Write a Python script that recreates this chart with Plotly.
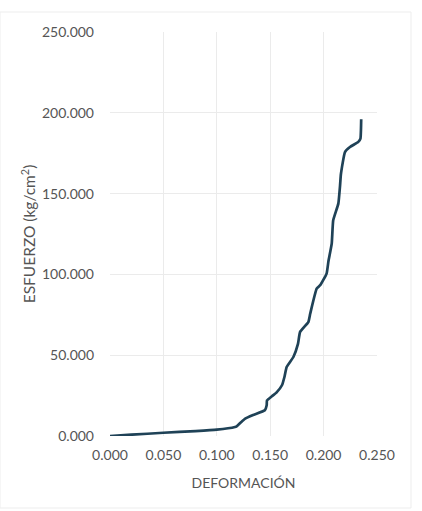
import plotly.graph_objects as go

# Ensayo de compresión: deformación unitaria vs esfuerzo
deformacion = [0.000, 0.020, 0.050, 0.080, 0.100, 0.117, 0.1186, 0.1226, 0.1266,
               0.134, 0.145, 0.1467, 0.1470, 0.1516, 0.156, 0.161, 0.1635, 0.1654,
               0.1717, 0.176, 0.178, 0.1857, 0.1875, 0.1935, 0.197, 0.2028, 0.2045,
               0.2076, 0.209, 0.2138, 0.2154, 0.2162, 0.220, 0.2247, 0.2325, 0.2345,
               0.2350, 0.2352]
esfuerzo = [0.0, 0.8, 2.0, 3.0, 3.9, 5.6, 6.0, 8.5, 10.8,
            13.0, 15.9, 19.0, 22.0, 24.6, 27.0, 31.4, 37.0, 42.7,
            48.9, 57.0, 64.4, 70.5, 75.8, 91.2, 93.5, 100.5, 108.0,
            119.0, 133.5, 143.8, 155.0, 162.0, 175.7, 178.8, 182.0, 184.0,
            190.0, 196.0]

x_ticks = [0.0, 0.05, 0.10, 0.15, 0.20, 0.25]
y_ticks = [0, 50, 100, 150, 200, 250]

fig = go.Figure()
fig.add_trace(go.Scatter(
    x=deformacion, y=esfuerzo, mode="lines",
    line=dict(color="#1f4257", width=2.7, shape="spline", smoothing=0.4),
    showlegend=False, hoverinfo="x+y",
))

font_ticks = dict(family="Lato, 'Open Sans', sans-serif", size=14, color="#555555")
font_ytitle = dict(family="Lato, 'Open Sans', sans-serif", size=15.5, color="#555555")

fig.update_layout(
    width=422, height=511,
    margin=dict(l=110, r=45, t=32, b=75),
    paper_bgcolor="white", plot_bgcolor="white",
    xaxis=dict(
        range=[0, 0.25], tickvals=x_ticks,
        ticktext=[f"{v:.3f}" for v in x_ticks],
        showgrid=True, gridcolor="#ebebeb", gridwidth=1,
        zeroline=False, showline=False, tickfont=font_ticks,
        ticklabelstandoff=9,
        title=dict(text="DEFORMACIÓN", font=font_ticks, standoff=16),
    ),
    yaxis=dict(
        range=[0, 250], tickvals=y_ticks,
        ticktext=[f"{v:.3f}" for v in y_ticks],
        showgrid=True, gridcolor="#ebebeb", gridwidth=1,
        zeroline=False, showline=False, tickfont=font_ticks,
        ticklabelstandoff=15,
        title=dict(text="ESFUERZO (kg/cm<sup>2</sup>)", font=font_ytitle, standoff=2),
    ),
)

# Marco exterior del gráfico
fig.add_shape(type="rect", xref="paper", yref="paper",
              x0=-110 / 267, x1=(411 - 110) / 267,
              y0=-(508 - 436) / 404, y1=(436 - 12) / 404,
              line=dict(color="#ededed", width=1), layer="below")

fig.write_html("out.html")
